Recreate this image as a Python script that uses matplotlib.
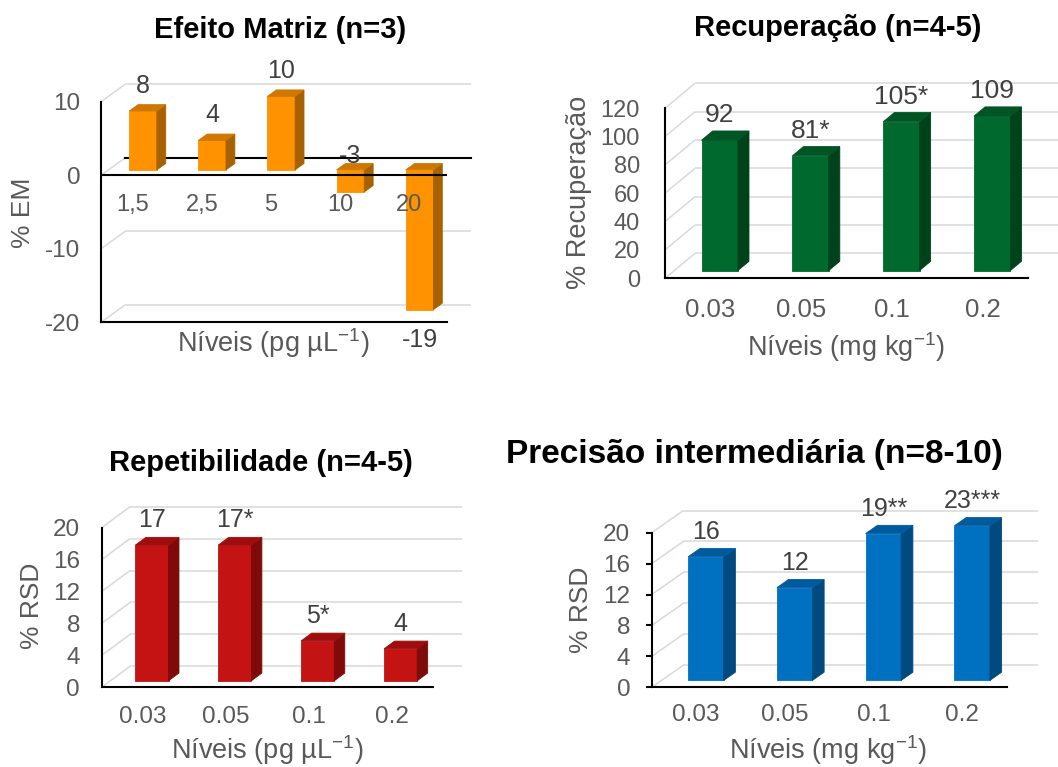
import matplotlib
matplotlib.use("Agg")
import matplotlib.pyplot as plt
from matplotlib.patches import Polygon

plt.rcParams['font.family'] = ['Liberation Sans', 'DejaVu Sans']
plt.rcParams['mathtext.fontset'] = 'custom'
plt.rcParams['mathtext.rm'] = 'Liberation Sans'
plt.rcParams['mathtext.it'] = 'Liberation Sans:italic'
plt.rcParams['mathtext.bf'] = 'Liberation Sans:bold'

W, H = 1058, 767
TICK_GRAY = '#595959'
LABEL_DARK = '#404040'
GRID = '#D9D9D9'

# ---- data ----
em_levels = ['1,5', '2,5', '5', '10', '20']
em_values = [8, 4, 10, -3, -19]
em_labels = ['8', '4', '10', '-3', '-19']
em_ticks = [-20, -10, 0, 10]

rec_levels = ['0.03', '0.05', '0.1', '0.2']
rec_values = [92, 81, 105, 109]
rec_labels = ['92', '81*', '105*', '109']
rec_ticks = [0, 20, 40, 60, 80, 100, 120]

rep_levels = ['0.03', '0.05', '0.1', '0.2']
rep_values = [17, 17, 5, 4]
rep_labels = ['17', '17*', '5*', '4']

pi_levels = ['0.03', '0.05', '0.1', '0.2']
pi_values = [16, 12, 19, 23]
pi_labels = ['16', '12', '19**', '23***']
rsd_ticks = [0, 4, 8, 12, 16, 20]

# bar geometry (fractions of category width / floor depth)
BAR_W = 0.40
BAR_FRONT = 0.31
BAR_DEPTH = 0.37

ORANGE = ('#FF9200', '#CF7700', '#A86100')
GREEN = ('#006A2E', '#005524', '#00421A')
RED = ('#C41313', '#9E0E0E', '#7E0A0A')
BLUE = ('#0070C0', '#005A9E', '#004A80')

fig = plt.figure(figsize=(W / 100, H / 100), dpi=100)


def add_px_axes(xl, xr, ytop, ybot):
    return fig.add_axes([xl / W, 1 - ybot / H, (xr - xl) / W, (ybot - ytop) / H])


def draw_panel(box, levels, values, labels, ticks, depth_px, colors,
               ytick_size=17.5, ytick_pad=15, ytick_len=0,
               xtick_size=17.5, xtick_pad=21, label_size=18,
               categories_on_axis=True):
    xl, xr, ytop, ybot = box
    ax = add_px_axes(*box)
    ax.set_facecolor('none')
    n = len(levels)
    ymin, ymax = ticks[0], ticks[-1]
    ax.set_xlim(-0.5, n - 0.5)
    ax.set_ylim(ymin, ymax)
    sx = (xr - xl) / n
    sy = (ybot - ytop) / (ymax - ymin)
    Dx = depth_px[0] / sx
    Dy = depth_px[1] / sy
    x0, x1 = -0.5, n - 0.5

    # side wall diagonals and back-wall gridlines
    for t in ticks:
        ax.plot([x0, x0 + Dx], [t, t + Dy], color=GRID, lw=1.1,
                clip_on=False, zorder=1, solid_capstyle='butt')
        ax.plot([x0 + Dx, x1 + Dx], [t + Dy, t + Dy], color=GRID, lw=1.1,
                clip_on=False, zorder=1, solid_capstyle='butt')

    front, top_c, side_c = colors
    ddx, ddy = BAR_DEPTH * Dx, BAR_DEPTH * Dy
    for i, (v, lab) in enumerate(zip(values, labels)):
        vc = max(min(v, ymax), ymin)
        lo, hi = min(0, vc), max(0, vc)
        a = i - BAR_W / 2 + BAR_FRONT * Dx
        b = i + BAR_W / 2 + BAR_FRONT * Dx
        y0 = lo + BAR_FRONT * Dy
        y1 = hi + BAR_FRONT * Dy
        kw = dict(closed=True, lw=0.6, clip_on=False, zorder=2, joinstyle='miter')
        ax.add_patch(Polygon([(a, y0), (b, y0), (b, y1), (a, y1)],
                             fc=front, ec=front, **kw))
        ax.add_patch(Polygon([(b, y0), (b + ddx, y0 + ddy), (b + ddx, y1 + ddy), (b, y1)],
                             fc=side_c, ec=side_c, **kw))
        ax.add_patch(Polygon([(a, y1), (a + ddx, y1 + ddy), (b + ddx, y1 + ddy), (b, y1)],
                             fc=top_c, ec=top_c, **kw))
        xc = (a + b) / 2
        if v >= 0:
            anchor, off = vc + BAR_FRONT * Dy, 18
        elif v > ymin / 2:
            anchor, off = BAR_FRONT * Dy, 10
        else:
            anchor, off = vc + BAR_FRONT * Dy, -22
        ax.annotate(lab, (xc, anchor), xytext=(0, off), textcoords='offset points',
                    ha='center', va='center', fontsize=label_size,
                    color=LABEL_DARK, zorder=4, annotation_clip=False)

    for s in ('top', 'right'):
        ax.spines[s].set_visible(False)
    for s in ('left', 'bottom'):
        ax.spines[s].set_color('black')
        ax.spines[s].set_linewidth(1.5)
        ax.spines[s].set_zorder(3)

    ax.set_yticks(ticks, labels=[str(t) for t in ticks])
    ax.tick_params(axis='y', length=ytick_len, width=1.5, color='black',
                   direction='out', pad=ytick_pad, labelsize=ytick_size,
                   labelcolor=TICK_GRAY)
    if categories_on_axis:
        ax.set_xticks(range(n), labels=levels)
        ax.tick_params(axis='x', length=0, pad=xtick_pad, labelsize=xtick_size,
                       labelcolor=TICK_GRAY)
        for t in ax.get_xticklabels():
            t.set_va('center')
    else:
        ax.set_xticks([])
    return ax, Dx, Dy


def fig_text(x, y, s, **kw):
    fig.text(x / W, 1 - y / H, s, ha='center', va='center', **kw)


# ---- Efeito Matriz ----
ax1, dx1, dy1 = draw_panel((101, 446.7, 101.7, 322.3), em_levels, em_values, em_labels,
                           em_ticks, (24, 17.3), ORANGE, ytick_pad=15,
                           categories_on_axis=False)
ax1.plot([-0.5 + dx1, len(em_levels) - 0.5 + dx1], [dy1, dy1], color='black', lw=1.5,
         clip_on=False, zorder=1.5)
ax1.axhline(0, color='black', lw=1.5, zorder=3)
for i, lev in enumerate(em_levels):
    ax1.annotate(lev, (i, 0), xytext=(-2, -21.6), textcoords='offset points',
                 ha='center', va='center', fontsize=17, color=TICK_GRAY,
                 annotation_clip=False)
fig_text(280, 30, 'Efeito Matriz (n=3)', fontsize=21, fontweight='bold', color='black')
fig_text(22.5, 212.5, '% EM', rotation=90, fontsize=19, color=TICK_GRAY)
fig_text(273, 343, r'Níveis (pg µL$^{-1}$)', fontsize=19.5, color=TICK_GRAY)

# ---- Recuperação ----
draw_panel((665, 1028.3, 108.3, 278.3), rec_levels, rec_values, rec_labels,
           rec_ticks, (30, 25), GREEN, ytick_size=17, ytick_pad=18,
           xtick_size=18.5, xtick_pad=22.8, label_size=19)
fig_text(838, 28, 'Recuperação (n=4-5)', fontsize=21, fontweight='bold', color='black')
fig_text(579, 192.5, '% Recuperação', rotation=90, fontsize=19.5, color=TICK_GRAY)
fig_text(845.8, 346.7, r'Níveis (mg kg$^{-1}$)', fontsize=19.5, color=TICK_GRAY)

# ---- Repetibilidade ----
draw_panel((101.7, 433.3, 527.7, 687.3), rep_levels, rep_values, rep_labels,
           rsd_ticks, (28.3, 21), RED, ytick_pad=15.6, xtick_pad=21.2)
fig_text(261, 463, 'Repetibilidade (n=4-5)', fontsize=21, fontweight='bold', color='black')
fig_text(31.7, 605.8, '% RSD', rotation=90, fontsize=19, color=TICK_GRAY)
fig_text(267.5, 750.5, r'Níveis (pg µL$^{-1}$)', fontsize=19.5, color=TICK_GRAY)

# ---- Precisão intermediária ----
draw_panel((651.7, 1006.7, 532.7, 687.3), pi_levels, pi_values, pi_labels,
           rsd_ticks, (31.7, 22.2), BLUE, ytick_pad=11.5, ytick_len=4,
           xtick_pad=20)
fig_text(754, 455, 'Precisão intermediária (n=8-10)', fontsize=24, fontweight='bold',
         color='black')
fig_text(580.8, 610, '% RSD', rotation=90, fontsize=19, color=TICK_GRAY)
fig_text(828.3, 750.5, r'Níveis (mg kg$^{-1}$)', fontsize=19.5, color=TICK_GRAY)

fig.savefig('out.png', dpi=100, facecolor='white')
